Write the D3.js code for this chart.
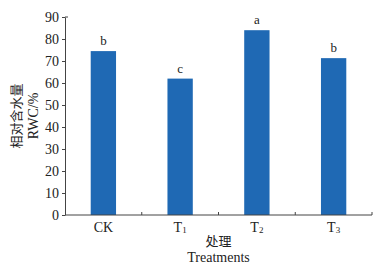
<!DOCTYPE html>
<html>
<head>
<meta charset="utf-8">
<script src="https://d3js.org/d3.v7.min.js"></script>
<style>
    body { margin: 0; background: #fff; }
    text { font-family: "Liberation Serif", "Times New Roman", serif; fill: #222; }
    .cjk { font-family: "Noto Sans CJK SC", sans-serif; }
</style>
</head>
<body>
<script>
    var w = 389, h = 268;
    var margin = {top: 17, right: 17, bottom: 53, left: 65};

    // data
    var treatments = ['CK', 'T1', 'T2', 'T3'];
    var rwc = [74.5, 62.0, 84.0, 71.3];
    var letters = ['b', 'c', 'a', 'b'];
    var yTicks = [0, 10, 20, 30, 40, 50, 60, 70, 80, 90];

    var svg = d3.select('body').append('svg')
        .attr('width', w)
        .attr('height', h);

    var x = d3.scaleBand()
        .domain(treatments)
        .range([margin.left, w - margin.right])
        .paddingInner(0.67)
        .paddingOuter(0.335);

    var y = d3.scaleLinear()
        .domain([0, 90])
        .range([h - margin.bottom, margin.top]);

    var bars = treatments.map(function(t, i) {
        return {name: t, value: rwc[i], letter: letters[i]};
    });

    // bars
    svg.selectAll('rect.bar')
        .data(bars)
        .enter().append('rect')
        .attr('class', 'bar')
        .attr('x', function(d) { return x(d.name); })
        .attr('y', function(d) { return y(d.value); })
        .attr('width', x.bandwidth())
        .attr('height', function(d) { return y(0) - y(d.value); })
        .attr('fill', '#1f69b4');

    // significance letters
    svg.selectAll('text.sig')
        .data(bars)
        .enter().append('text')
        .attr('class', 'sig')
        .attr('x', function(d) { return x(d.name) + x.bandwidth() / 2; })
        .attr('y', function(d) { return y(d.value) - 6; })
        .attr('text-anchor', 'middle')
        .attr('font-size', 13)
        .text(function(d) { return d.letter; });

    // y axis
    var yAxis = svg.append('g')
        .attr('transform', 'translate(' + margin.left + ',0)')
        .call(d3.axisLeft(y).tickValues(yTicks).tickSize(3).tickSizeOuter(0).tickPadding(3));
    yAxis.select('.domain').attr('stroke', '#444');
    yAxis.selectAll('.tick line').attr('stroke', '#444');
    yAxis.selectAll('.tick text')
        .attr('font-family', '"Liberation Serif", serif')
        .attr('font-size', 14)
        .attr('fill', '#222');
    // small cap at top of y axis
    yAxis.append('line')
        .attr('x1', 0).attr('x2', 3)
        .attr('y1', y(90)).attr('y2', y(90))
        .attr('stroke', '#444');

    // x axis, ticks on band edges pointing up
    var edges = treatments.map(function(t) { return x(t) - x.step() * x.paddingOuter(); });
    edges.push(w - margin.right);
    var xg = svg.append('g');
    xg.append('line')
        .attr('x1', margin.left).attr('x2', w - margin.right)
        .attr('y1', y(0)).attr('y2', y(0))
        .attr('stroke', '#444');
    xg.selectAll('line.tk')
        .data(edges.slice(1))
        .enter().append('line')
        .attr('class', 'tk')
        .attr('x1', function(d) { return d; }).attr('x2', function(d) { return d; })
        .attr('y1', y(0)).attr('y2', y(0) - 3)
        .attr('stroke', '#444');

    // category labels with subscripts
    var lab = xg.selectAll('text.cat')
        .data(bars)
        .enter().append('text')
        .attr('class', 'cat')
        .attr('x', function(d) { return x(d.name) + x.bandwidth() / 2; })
        .attr('y', y(0) + 17)
        .attr('text-anchor', 'middle')
        .attr('font-size', 14);
    lab.each(function(d) {
        var t = d3.select(this);
        t.append('tspan').text(d.name.charAt(0) === 'T' ? 'T' : d.name);
        if (d.name.charAt(0) === 'T') {
            t.append('tspan').attr('font-size', 9).attr('dy', 1).text(d.name.slice(1));
        }
    });

    // x title
    var xc = (margin.left + w - margin.right) / 2;
    svg.append('text')
        .attr('class', 'cjk')
        .attr('x', xc).attr('y', 246)
        .attr('text-anchor', 'middle')
        .attr('font-size', 13)
        .text('处理');
    svg.append('text')
        .attr('x', xc).attr('y', 262)
        .attr('text-anchor', 'middle')
        .attr('font-size', 14)
        .text('Treatments');

    // y title
    var yc = (y(0) + y(90)) / 2;
    svg.append('text')
        .attr('class', 'cjk')
        .attr('transform', 'translate(21,' + yc + ') rotate(-90)')
        .attr('text-anchor', 'middle')
        .attr('font-size', 13)
        .text('相对含水量');
    svg.append('text')
        .attr('transform', 'translate(38,' + yc + ') rotate(-90)')
        .attr('text-anchor', 'middle')
        .attr('font-size', 14)
        .text('RWC/%');
</script>
</body>
</html>
